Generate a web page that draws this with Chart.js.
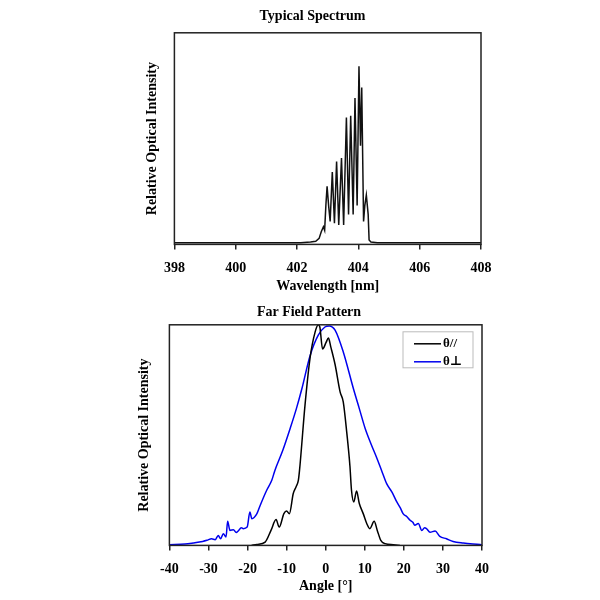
<!DOCTYPE html>
<html>
<head>
<meta charset="utf-8">
<script src="https://cdn.jsdelivr.net/npm/chart.js@4.4.0/dist/chart.umd.min.js"></script>
<style>
  body { margin: 0; background: #fff; }
  #wrap { position: relative; width: 600px; height: 600px; }
  canvas { position: absolute; left: 0; }
</style>
</head>
<body>
<div id="wrap">
  <canvas id="spec" width="600" height="300" style="top:0"></canvas>
  <canvas id="ffp" width="600" height="300" style="top:300px"></canvas>
</div>
<script>
// Typical spectrum (wavelength nm / relative intensity)
var specWl  = [398, 402.12, 402.44, 402.61, 402.72, 402.79, 402.86, 402.90, 402.94, 402.98, 403.03, 403.08,
               403.15, 403.22, 403.29, 403.36, 403.45, 403.52, 403.61, 403.68, 403.75, 403.83, 403.89, 403.96,
               404.02, 404.07, 404.11, 404.17, 404.21, 404.26, 404.32, 404.35, 404.41, 404.62, 408];
var specInt = [0, 0, 0.004, 0.008, 0.024, 0.062, 0.09, 0.07, 0.21, 0.32, 0.21, 0.12,
               0.40, 0.11, 0.46, 0.10, 0.48, 0.10, 0.71, 0.16, 0.72, 0.16, 0.82, 0.21,
               1.0, 0.55, 0.88, 0.12, 0.21, 0.27, 0.16, 0.015, 0.004, 0, 0];

// Far field pattern (angle deg / relative intensity)
var blackAngle = [-19, -17.6, -15.5, -14, -12.7, -11.9, -10.7, -10.0, -9.3, -8.3, -7.6, -7.0, -6.7, -5.3, -4.0,
                  -2.7, -1.9, -1.5, -0.8, 0.1, 0.7, 1.3, 2.4, 3.7, 4.5, 5.4, 6.2, 6.6, 7.2, 7.9, 8.6, 9.6,
                  10.5, 11.3, 12.4, 13.2, 14.1, 15.2, 17.3, 19];
var blackInt   = [0, 0.004, 0.015, 0.068, 0.117, 0.083, 0.144, 0.156, 0.144, 0.235, 0.265, 0.295, 0.34, 0.635, 0.85,
                  0.968, 1.0, 0.99, 0.89, 0.92, 0.94, 0.9, 0.82, 0.695, 0.65, 0.51, 0.36, 0.25, 0.197, 0.247, 0.19, 0.144,
                  0.099, 0.076, 0.109, 0.068, 0.023, 0.008, 0.003, 0];

var blueAngle = [-40, -36, -33.9, -31.5, -30.4, -29.2, -28.3, -27.5, -26.9, -26.2, -25.5, -25.1, -24.5, -23.6, -22.9,
                 -22.4, -21.6, -21.1, -20.1, -19.4, -18.9, -17.6, -16.8, -15.1, -13.8, -13.0, -11.0, -9.1, -7.5, -6.1, -4.0,
                 -1.9, -0.2, 0.9, 2.4, 4.5, 7.1, 8.6, 10.1, 11.6, 13.0, 14.3, 15.6, 17.0, 18.2, 19.1, 19.8, 20.8, 21.6, 22.3,
                 22.8, 23.7, 24.6, 25.3, 25.8, 26.7, 28, 29.2, 30.9, 32.6, 35.2, 39.5, 40];
var blueInt   = [0.003, 0.006, 0.011, 0.018, 0.023, 0.03, 0.026, 0.045, 0.03, 0.053, 0.038, 0.11, 0.068, 0.071, 0.058,
                 0.065, 0.08, 0.076, 0.083, 0.151, 0.121, 0.144, 0.18, 0.25, 0.295, 0.34, 0.43, 0.53, 0.62, 0.71, 0.86,
                 0.953, 0.99, 0.995, 0.976, 0.877, 0.71, 0.62, 0.53, 0.46, 0.40, 0.34, 0.28, 0.24, 0.197, 0.17, 0.144, 0.13, 0.114, 0.105,
                 0.091, 0.099, 0.068, 0.08, 0.076, 0.06, 0.065, 0.041, 0.03, 0.018, 0.011, 0.004, 0.003];

var legendLabels = ['θ//', 'θ⊥'];

function toPoints(xs, ys) {
  return xs.map(function (x, i) { return { x: x, y: ys[i] }; });
}

Chart.defaults.font.family = "'Liberation Serif', 'Times New Roman', serif";
Chart.defaults.font.size = 14;
Chart.defaults.font.weight = 'bold';
Chart.defaults.color = '#000';

// draws the closed frame round the plot area
var frame = {
  id: 'frame',
  afterDatasetsDraw: function (chart) {
    var a = chart.chartArea, ctx = chart.ctx;
    ctx.save();
    ctx.strokeStyle = '#222';
    ctx.lineWidth = 1.5;
    ctx.strokeRect(a.left, a.top, a.right - a.left, a.bottom - a.top);
    ctx.restore();
  }
};

function xScale(min, max, step, title, titleTop) {
  return {
    type: 'linear', min: min, max: max,
    ticks: { stepSize: step, padding: 11, font: { size: 14, weight: 'bold' } },
    grid: { drawOnChartArea: false, drawTicks: true, tickLength: 5, color: '#222', lineWidth: 1.5 },
    border: { display: false },
    title: { display: true, text: title, padding: { top: titleTop, bottom: 0 }, font: { size: 14, weight: 'bold' } }
  };
}

function yScale(min, max, gap) {
  return {
    min: min, max: max,
    ticks: { display: false },
    grid: { display: false },
    border: { display: false },
    title: { display: true, text: 'Relative Optical Intensity', padding: { top: 0, bottom: gap }, font: { size: 14, weight: 'bold' } }
  };
}

//Spectrum chart
var chart_spec = new Chart(document.getElementById('spec'), {
  type: 'line',
  data: {
    datasets: [{
      label: 'Spectrum',
      data: toPoints(specWl, specInt),
      borderColor: '#111',
      borderWidth: 1.5,
      pointRadius: 0,
      tension: 0
    }]
  },
  options: {
    responsive: false,
    animation: false,
    layout: { padding: { left: 144, right: 119, top: 0, bottom: 5 } },
    scales: {
      x: xScale(398, 408, 2, 'Wavelength [nm]', -10),
      y: yScale(-0.01, 1.19, 5.6)
    },
    plugins: {
      title: { display: true, text: 'Typical Spectrum', padding: { top: 8, bottom: 8 }, font: { size: 14, weight: 'bold' } },
      legend: { display: false },
      tooltip: { enabled: false }
    }
  },
  plugins: [frame]
});

// small boxed legend inside the far field plot
var boxLegend = {
  id: 'boxLegend',
  afterDatasetsDraw: function (chart) {
    var a = chart.chartArea, ctx = chart.ctx;
    var bx = a.right - 79, by = a.top + 7, bw = 70, bh = 36;
    ctx.save();
    ctx.fillStyle = '#fff';
    ctx.fillRect(bx, by, bw, bh);
    ctx.strokeStyle = '#bbb';
    ctx.lineWidth = 1;
    ctx.strokeRect(bx, by, bw, bh);
    ctx.font = "bold 13px 'Liberation Serif', 'DejaVu Serif', serif";
    ctx.textBaseline = 'middle';
    chart.data.datasets.forEach(function (ds, i) {
      var y = by + 12 + i * 18;
      ctx.strokeStyle = ds.borderColor;
      ctx.lineWidth = 1.5;
      ctx.beginPath();
      ctx.moveTo(bx + 11, y);
      ctx.lineTo(bx + 38, y);
      ctx.stroke();
      ctx.fillStyle = '#000';
      ctx.fillText(legendLabels[i], bx + 40, y);
    });
    ctx.restore();
  }
};

//Far field chart
var chart_ffp = new Chart(document.getElementById('ffp'), {
  type: 'line',
  data: {
    datasets: [{
      label: legendLabels[0],
      data: toPoints(blackAngle, blackInt),
      borderColor: '#000',
      borderWidth: 1.5,
      pointRadius: 0,
      cubicInterpolationMode: 'monotone'
    }, {
      label: legendLabels[1],
      data: toPoints(blueAngle, blueInt),
      borderColor: '#0000ee',
      borderWidth: 1.5,
      pointRadius: 0,
      cubicInterpolationMode: 'monotone'
    }]
  },
  options: {
    responsive: false,
    animation: false,
    layout: { padding: { left: 136, right: 118, top: 0, bottom: 5 } },
    scales: {
      x: xScale(-40, 40, 10, 'Angle [°]', -11),
      y: yScale(0, 1.0, 8.6)
    },
    plugins: {
      title: { display: true, text: 'Far Field Pattern', padding: { top: 4, bottom: 4 }, font: { size: 14, weight: 'bold' } },
      legend: { display: false },
      tooltip: { enabled: false }
    }
  },
  plugins: [frame, boxLegend]
});
</script>
</body>
</html>
